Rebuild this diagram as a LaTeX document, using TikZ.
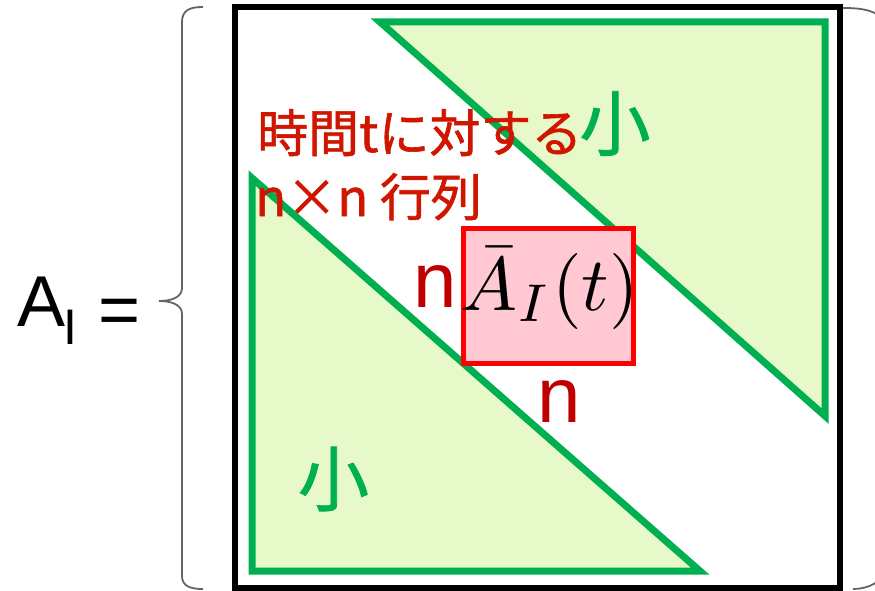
\documentclass[tikz,border=0pt]{standalone}
\usepackage{fontspec}
\newfontfamily\jpfont[FakeBold=1.2]{Noto Sans CJK JP}
\newfontfamily\arialfont{Liberation Sans}
\definecolor{grn}{RGB}{0,176,80}
\definecolor{lgrn}{RGB}{231,249,200}
\definecolor{pinkfill}{RGB}{255,200,210}
\definecolor{boxred}{RGB}{255,0,0}
\definecolor{txtred}{RGB}{208,22,0}
\definecolor{nred}{RGB}{192,0,0}
\definecolor{bracegray}{RGB}{100,100,100}
\tikzset{
  tri/.style={draw=grn, fill=lgrn, line width=7pt, miter limit=20},
  frame/.style={draw=black, line width=6pt, outer sep=0pt, inner sep=0pt},
  brace/.style={draw=bracegray, line width=1.8pt},
  jpred/.style={text=txtred, font=\jpfont\fontsize{51}{53}\selectfont, inner sep=0pt, anchor=base west},
  smallch/.style={text=grn, font=\jpfont\fontsize{71}{71}\selectfont, inner sep=0pt, anchor=center},
  nlabel/.style={text=nred, font=\arialfont\fontsize{78}{78}\selectfont, inner sep=0pt, anchor=base west},
  blockbox/.style={draw=boxred, fill=pinkfill, line width=5pt, outer sep=0pt, inner sep=0pt}
}
\begin{document}
\begin{tikzpicture}[x=1pt,y=-1pt]
\useasboundingbox (0,0) rectangle (875,591);
\fill[white] (0,0) rectangle (875,591);
\begin{scope}
\clip (0,0) rectangle (875,591);
% braces
\draw[brace] (203,7) .. controls (190,7) and (182,10) .. (182,22) -- (182,288)
  .. controls (182,298) and (170,301) .. (159,301)
  .. controls (170,301) and (182,304) .. (182,314) -- (182,576)
  .. controls (182,586) and (190,589) .. (203,589);
\draw[brace] (843,8) .. controls (862,8) and (885,10) .. (885,30) -- (885,566)
  .. controls (885,582) and (868,589) .. (853,589);
\end{scope}
% matrix frame
\node[frame, minimum width=605pt, minimum height=581pt, anchor=north west] (mat) at (234.5,7) {};
% triangles
\coordinate (u1) at (380,22);
\coordinate (u2) at (825,22);
\coordinate (u3) at (825,416);
\coordinate (l1) at (252,178);
\coordinate (l2) at (252,571);
\coordinate (l3) at (700,571);
\draw[tri] (u1) -- (u2) -- (u3) -- cycle;
\draw[tri] (l1) -- (l2) -- (l3) -- cycle;
% texts
\node[jpred] (t1) at (257,152) {時間tに対する};
\node[jpred] (t2) at (255,216) {n×n 行列};
\node[smallch] (s1) at (615,123.5) {小};
\node[smallch] (s2) at (333.5,479) {小};
% block
\node[blockbox, minimum width=170pt, minimum height=135pt, anchor=north west] (blk) at (463.5,228.5) {};
\node[inner sep=0pt, anchor=base west, scale=7.6] (ab) at (459,310) {$\bar{A}_I(t)$};
\node[nlabel] (n1) at (413,307) {n};
\node[nlabel] (n2) at (537,422) {n};
% left side
\node[inner sep=0pt, anchor=base west, font=\arialfont\fontsize{72}{72}\selectfont] (al) at (17,326)
  {A\kern-2pt\raisebox{-18pt}{\fontsize{50}{50}\selectfont I}\kern21pt\raisebox{-8pt}{=}};
\end{tikzpicture}
\end{document}
